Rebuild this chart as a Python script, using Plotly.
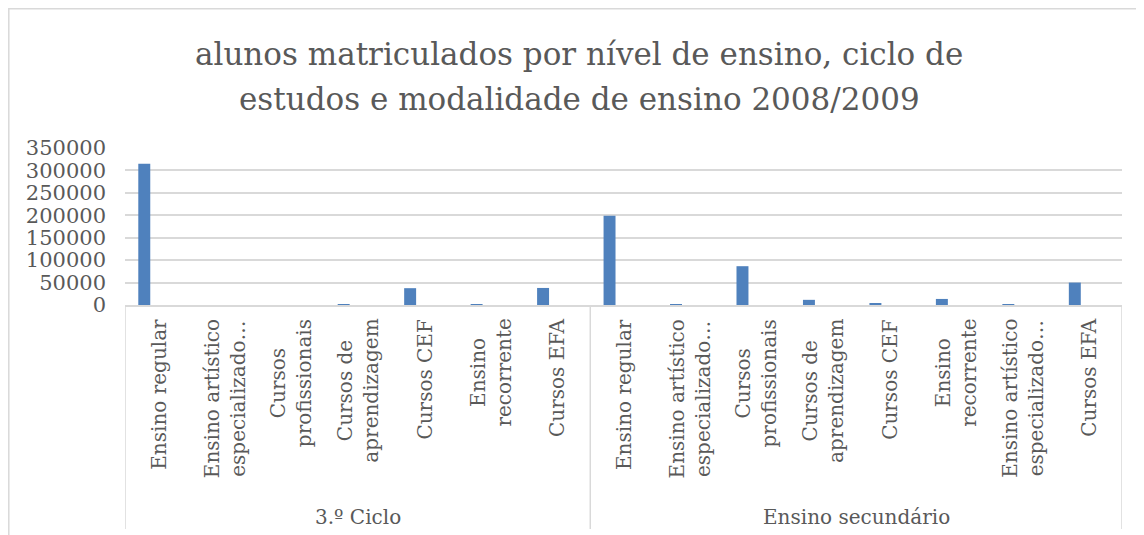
"""
Alunos matriculados por nivel de ensino, ciclo de estudos e modalidade
Excel-style clustered column chart with a two-level category axis
"""

import plotly.graph_objects as go

# Data
niveis = ["3.º Ciclo"] * 7 + ["Ensino secundário"] * 8
modalidades = [
    "Ensino regular",
    "Ensino artístico<br>especializado…",
    "Cursos<br>profissionais",
    "Cursos de<br>aprendizagem",
    "Cursos CEF",
    "Ensino<br>recorrente",
    "Cursos EFA",
    "Ensino regular",
    "Ensino artístico<br>especializado…",
    "Cursos<br>profissionais",
    "Cursos de<br>aprendizagem",
    "Cursos CEF",
    "Ensino<br>recorrente",
    "Ensino artístico<br>especializado…",
    "Cursos EFA",
]
alunos = [315000, 0, 0, 1200, 37500, 600, 38000,
          199000, 1500, 86500, 11500, 2500, 13500, 400, 50000]

y_ticks = [0, 50000, 100000, 150000, 200000, 250000, 300000, 350000]

GREY_TEXT = "#595959"
GRID = "#d9d9d9"
BAR = "#4f81bd"
FONT = "DejaVu Serif"

# unique category keys (same modality appears in both levels)
keys = [f"{n}|{i}" for i, n in enumerate(niveis)]

# plot area in pixels (page is shifted 8px by the body margin)
L, T, W, H = 117, 140, 997, 157
FIG_W, FIG_H = 1144, 535


def py(pix):
    """figure pixel row -> paper y"""
    return (T + H - pix) / H


def px_(pix):
    """figure pixel column -> paper x"""
    return (pix - L) / W


fig = go.Figure()

fig.add_trace(go.Bar(
    x=keys,
    y=alunos,
    width=0.18,
    offset=-0.30,
    marker=dict(color=BAR, line=dict(width=0)),
    customdata=[m.replace("<br>", " ") for m in modalidades],
    hovertemplate='%{customdata}: %{y}<extra></extra>',
))

# category labels (rotated, lines centred like Excel)
for k, m in zip(keys, modalidades):
    fig.add_annotation(
        x=k, xref="x", y=py(309), yref="paper",
        text=m, textangle=-90, showarrow=False,
        xanchor="center", yanchor="top", align="center",
        font=dict(family=FONT, size=20, color=GREY_TEXT),
    )

# group labels + dividers
groups = list(dict.fromkeys(niveis))
start = 0
edges = [-0.5]
for g in groups:
    n = niveis.count(g)
    fig.add_annotation(
        x=start + (n - 1) / 2, xref="x", y=py(509), yref="paper",
        text=g, showarrow=False, xanchor="center", yanchor="middle",
        font=dict(family=FONT, size=20, color=GREY_TEXT),
    )
    start += n
    edges.append(start - 0.5)

for e in edges:
    fig.add_shape(
        type="line", xref="x", yref="paper",
        x0=e, x1=e, y0=0, y1=py(521),
        line=dict(color=GRID, width=1.5),
    )

# chart-area border (cut off at right / bottom like the source)
fig.add_shape(
    type="rect", xref="paper", yref="paper",
    x0=px_(0.8), x1=px_(FIG_W + 20), y0=py(FIG_H + 20), y1=py(0.8),
    line=dict(color=GRID, width=1.5),
    fillcolor="rgba(0,0,0,0)", layer="below",
)

# title, two centred lines
title_lines = ["alunos matriculados por nível de ensino, ciclo de",
               "estudos e modalidade de ensino 2008/2009"]
for line, row in zip(title_lines, [46, 91]):
    fig.add_annotation(
        x=px_(571), xref="paper", y=py(row), yref="paper",
        text=line, showarrow=False, xanchor="center", yanchor="middle",
        font=dict(family=FONT, size=31, color=GREY_TEXT),
    )

fig.update_layout(
    width=FIG_W,
    height=FIG_H,
    margin=dict(l=L, r=FIG_W - L - W, t=T, b=FIG_H - T - H),
    paper_bgcolor="white",
    plot_bgcolor="white",
    showlegend=False,
    font=dict(family=FONT, size=20, color=GREY_TEXT),
    xaxis=dict(
        type="category",
        range=[-0.5, len(keys) - 0.5],
        showticklabels=False,
        showline=True,
        linecolor=GRID,
        linewidth=1.5,
        showgrid=False,
        ticks="",
        zeroline=False,
    ),
    yaxis=dict(
        range=[0, 350000],
        tickvals=y_ticks,
        tickformat="d",
        showgrid=True,
        gridcolor=GRID,
        gridwidth=1.5,
        zeroline=False,
        showline=False,
        ticklabelstandoff=18,
        tickfont=dict(family=FONT, size=21, color=GREY_TEXT),
    ),
)

fig.write_html("out.html")
